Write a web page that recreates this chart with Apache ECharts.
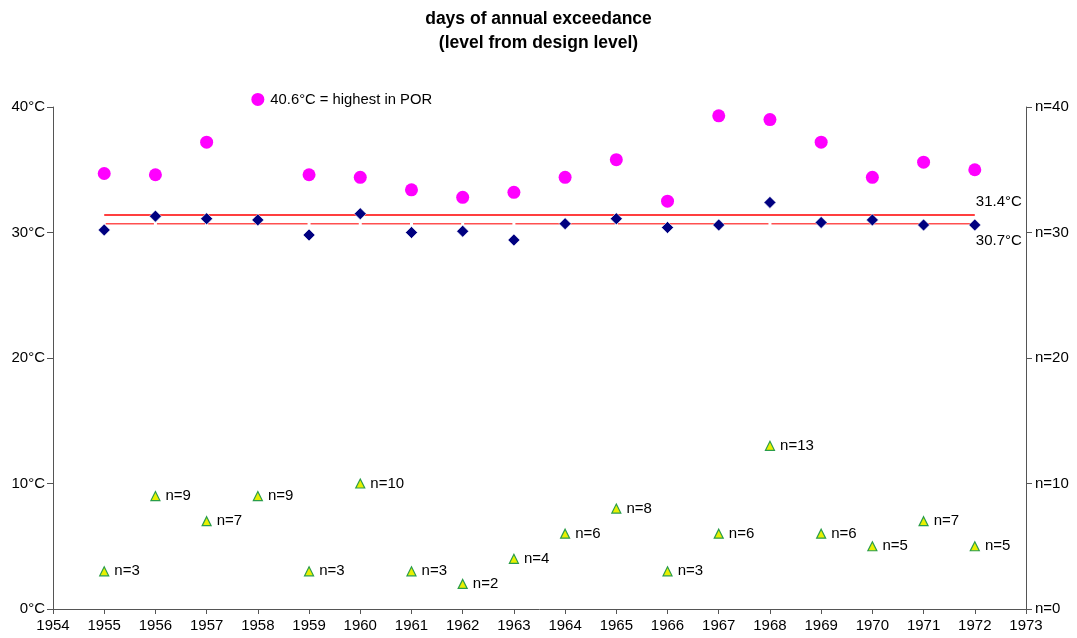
<!DOCTYPE html>
<html>
<head>
<meta charset="utf-8">
<script src="https://cdn.jsdelivr.net/npm/echarts@6/dist/echarts.min.js"></script>
<style>
  html, body { margin: 0; padding: 0; background: #fff; }
  #chart { width: 1077px; height: 638px; }
</style>
</head>
<body>
<div id="chart"></div>
<script>
// Years of record
const years = [1955, 1956, 1957, 1958, 1959, 1960, 1961, 1962, 1963, 1964, 1965, 1966, 1967, 1968, 1969, 1970, 1971, 1972];
// Annual maximum temperature (°C)
const annualMax = [34.7, 34.6, 37.2, 40.6, 34.6, 34.4, 33.4, 32.8, 33.2, 34.4, 35.8, 32.5, 39.3, 39.0, 37.2, 34.4, 35.6, 35.0];
// Level reached on the design days (°C)
const designLevel = [30.2, 31.3, 31.1, 31.0, 29.8, 31.5, 30.0, 30.1, 29.4, 30.7, 31.1, 30.4, 30.6, 32.4, 30.8, 31.0, 30.6, 30.6];
// Days of exceedance per year
const exceedDays = [3, 9, 7, 9, 3, 10, 3, 2, 4, 6, 8, 3, 6, 13, 6, 5, 7, 5];
// Reference levels (°C)
const upperRef = 31.4;
const lowerRef = 30.7;
const highestNote = '40.6°C = highest in POR';
const yTicks = [0, 10, 20, 30, 40];

const FONT = 'Liberation Sans, Arial, sans-serif';
const AXIS_FONT = 15;
const lastIdx = years.length - 1;

const chart = echarts.init(document.getElementById('chart'), null, { renderer: 'canvas' });

function refLabel(text, pos, dist) {
  return { show: true, formatter: text, position: pos, align: 'left', distance: dist, offset: [1, 0], color: '#000', fontSize: AXIS_FONT, fontFamily: FONT };
}

const upperLine = years.map((y, i) => i === lastIdx
  ? { value: [y, upperRef], label: refLabel(upperRef.toFixed(1) + '°C', 'top', 6) }
  : [y, upperRef]);
const lowerLine = years.map((y, i) => i === lastIdx
  ? { value: [y, lowerRef], label: refLabel(lowerRef.toFixed(1) + '°C', 'bottom', 7) }
  : [y, lowerRef]);

const maxData = years.map((y, i) => y === 1958
  ? { value: [y, annualMax[i]], label: { show: true, formatter: highestNote, position: 'right', distance: 6, color: '#000', fontSize: 14.8, fontFamily: FONT } }
  : [y, annualMax[i]]);

chart.setOption({
  animation: false,
  backgroundColor: '#fff',
  title: {
    text: 'days of annual exceedance\n(level from design level)',
    left: 'center',
    top: 2,
    textStyle: { fontFamily: FONT, fontWeight: 'bold', fontSize: 17.5, lineHeight: 24, color: '#000' }
  },
  grid: { left: 53, right: 51, top: 107, bottom: 29 },
  xAxis: {
    type: 'value',
    min: 1954, max: 1973, interval: 1,
    axisLine: { show: true, lineStyle: { color: '#555' } },
    axisTick: { show: true, length: 5, lineStyle: { color: '#555' } },
    axisLabel: { color: '#000', fontSize: AXIS_FONT, fontFamily: FONT, margin: 9, formatter: v => String(v) },
    splitLine: { show: false }
  },
  yAxis: [
    {
      type: 'value', min: yTicks[0], max: yTicks[yTicks.length - 1], interval: 10,
      axisLine: { show: true, lineStyle: { color: '#555' } },
      axisTick: { show: true, length: 6, lineStyle: { color: '#555' } },
      axisLabel: { color: '#000', fontSize: AXIS_FONT, fontFamily: FONT, margin: 8, formatter: v => v + '°C' },
      splitLine: { show: false }
    },
    {
      type: 'value', min: 0, max: 40, interval: 10, position: 'right',
      axisLine: { show: true, lineStyle: { color: '#555' } },
      axisTick: { show: true, length: 6, lineStyle: { color: '#555' } },
      axisLabel: { color: '#000', fontSize: AXIS_FONT, fontFamily: FONT, margin: 9, formatter: v => 'n=' + v },
      splitLine: { show: false }
    }
  ],
  series: [
    {
      name: 'upper reference', type: 'line', data: upperLine, yAxisIndex: 0,
      symbol: 'rect', symbolSize: 0.1, showSymbol: true,
      itemStyle: { color: '#ff0000' },
      lineStyle: { color: '#ff0000', width: 1.5 }, z: 2
    },
    {
      name: 'lower reference', type: 'line', data: lowerLine, yAxisIndex: 0,
      symbol: 'rect', symbolSize: [3, 5], showSymbol: true,
      itemStyle: { color: '#ffffff', borderWidth: 0 },
      lineStyle: { color: '#ff5050', width: 1.5 }, z: 2
    },
    {
      name: 'annual maximum', type: 'scatter', data: maxData, yAxisIndex: 0,
      clip: false,
      symbol: 'circle', symbolSize: 13,
      itemStyle: { color: '#ff00ff', opacity: 1 }, z: 3
    },
    {
      name: 'design level', type: 'scatter', yAxisIndex: 0,
      data: years.map((y, i) => [y, designLevel[i]]),
      symbol: 'diamond', symbolSize: 12,
      itemStyle: { color: '#000080', borderColor: '#ffffff', borderWidth: 0.6, opacity: 1 }, z: 4
    },
    {
      name: 'days of exceedance', type: 'scatter', yAxisIndex: 1,
      data: years.map((y, i) => [y, exceedDays[i]]),
      symbol: 'triangle', symbolSize: 9,
      itemStyle: { color: '#e8f000', borderColor: '#2a9d4a', borderWidth: 1.2, opacity: 1 },
      label: { show: true, position: 'right', distance: 5, formatter: p => 'n=' + p.value[1], color: '#000', fontSize: 15, fontFamily: FONT },
      z: 4
    }
  ]
});
</script>
</body>
</html>
